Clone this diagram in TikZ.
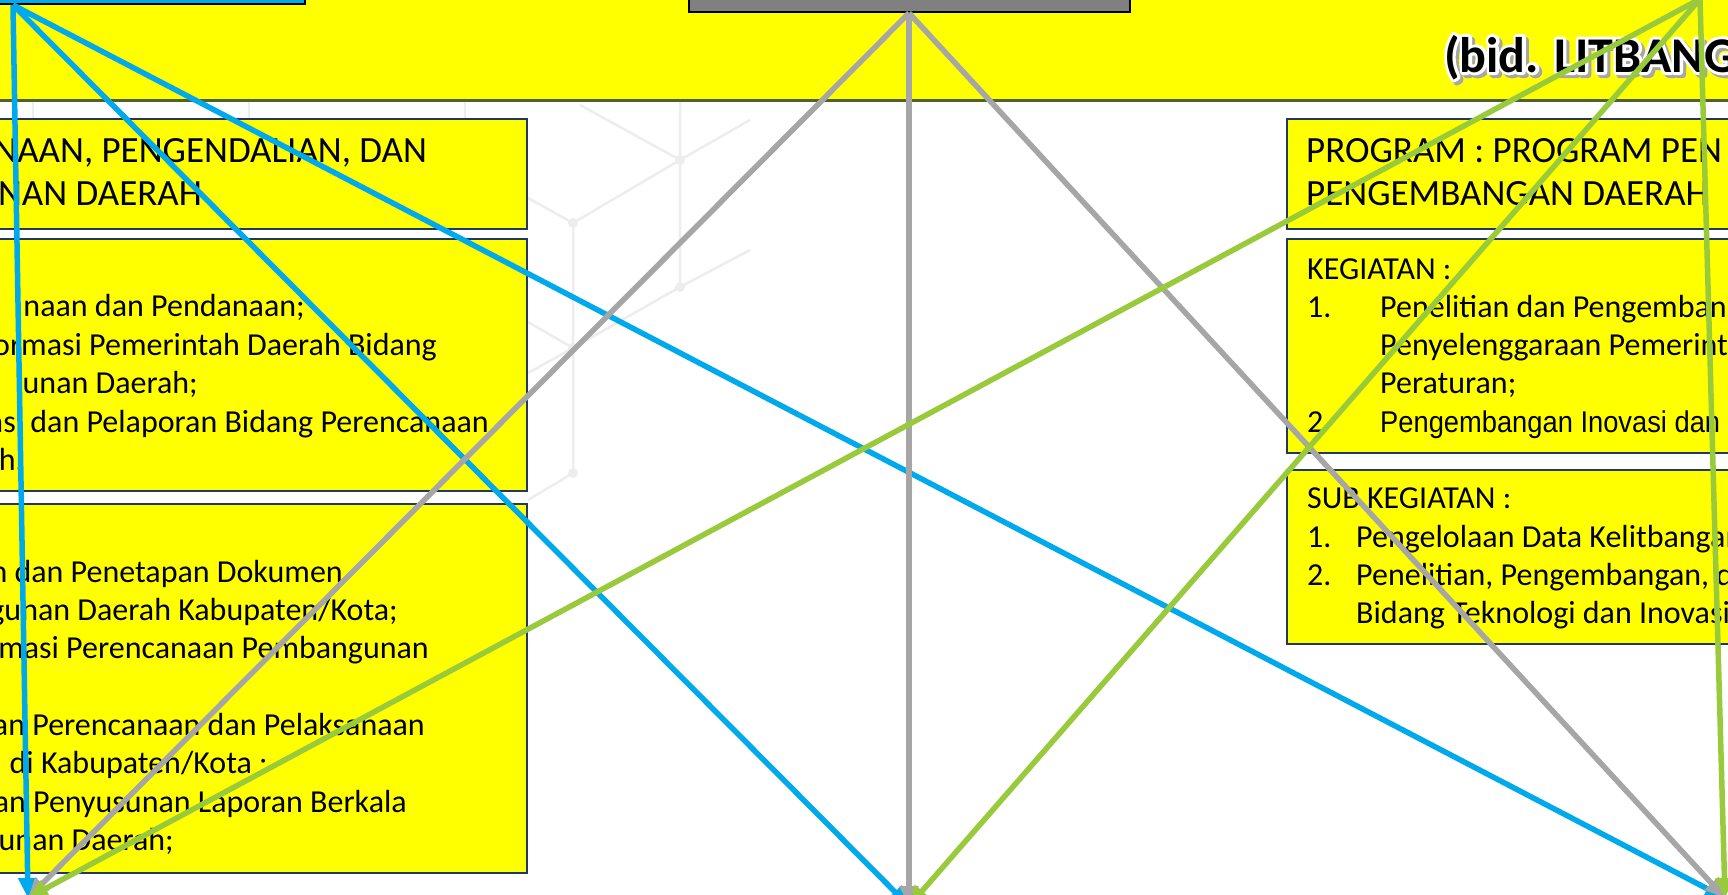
\documentclass[tikz,border=0pt]{standalone}
\usepackage{fontspec}
\setmainfont{Carlito}
\newfontfamily\narrowfont[FakeStretch=0.91]{Liberation Sans}
\usepackage{tikz}
\usetikzlibrary{positioning,arrows.meta}
\definecolor{bandyellow}{RGB}{255,255,0}
\definecolor{bandolive}{RGB}{79,98,40}
\definecolor{boxnavy}{RGB}{31,56,100}
\definecolor{topblue}{RGB}{0,170,235}
\definecolor{headgray}{RGB}{128,128,128}
\definecolor{linkblue}{RGB}{0,169,236}
\definecolor{linkgray}{RGB}{166,166,166}
\definecolor{linkgreen}{RGB}{153,202,60}
\definecolor{hexgray}{RGB}{237,237,237}
\tikzset{
  ybox/.style   = {draw=boxnavy, line width=1.6pt, fill=bandyellow, inner sep=0pt},
  topbox/.style = {draw=black, line width=2pt, minimum height=60pt, inner sep=0pt},
  hd/.style     = {anchor=base west, inner sep=0pt, font=\fontsize{37}{44}\selectfont},
  txt/.style    = {anchor=base west, inner sep=0pt, font=\fontsize{32}{38}\selectfont},
  ttl/.style    = {anchor=base west, inner sep=0pt, font=\fontsize{50}{60}\selectfont\bfseries},
  hex/.style    = {draw=hexgray, line width=2.5pt},
  link/.style   = {line width=5.5pt, -{Triangle[length=20pt,width=18pt]}},
}
% text drawn filled and stroked in its own colour
\newcommand{\stroked}[2]{\special{pdf:literal direct #1 w 1 j 2 Tr}#2\special{pdf:literal direct 0 Tr 1 w}}

\begin{document}
\begin{tikzpicture}[x=1pt,y=-1pt]
  \useasboundingbox (0,0) rectangle (1728,894);
  \fill[white] (0,0) rectangle (1728,894);
  % faint background pattern
  \draw[hex] (580,105) -- (680,160) -- (750,120);
  \draw[hex] (680,100) -- (680,287) -- (750,250);
  \draw[hex] (528,198) -- (573,223) -- (680,160);
  \draw[hex] (573,223) -- (573,473) -- (528,500);
  \draw[hex] (528,322) -- (573,348) -- (680,287);
  \draw[hex] (573,348) -- (528,373);
  \foreach \x in {33,249,465} \draw[hex] (\x,100) -- (\x,118);
  \foreach \p in {(680,160),(573,223),(680,287),(573,348),(573,473)} \fill[hexgray] \p circle (5);
  % header band
  \fill[bandyellow] (-6,-6) rectangle (1734,100);
  \draw[bandolive, line width=2.5pt] (-6,100.5) -- (1734,100.5);
  \node[topbox, fill=topblue, minimum width=584pt, anchor=south] (bidA) at (13,5) {};
  \node[topbox, fill=headgray, minimum width=441pt, anchor=south] (bidB) at (909,13) {};
  \coordinate (bidC) at (1700,-1);
  \node[ttl, text=black!35] (ttlshade) at (1447,75) {\stroked{6}{(bid. LITBANG}};
  \node[ttl, text=white] (ttlglow) at (1444,72) {\stroked{6}{(bid. LITBANG}};
  \node[ttl] (ttl) at (1444,72) {(bid. LITBANG};

  % left column
  \node[ybox, minimum width=560pt, minimum height=110pt, anchor=north east] (progL) at (528,118) {};
  \node[ybox, minimum width=560pt, minimum height=252pt, anchor=north east] (kegL) at (528,238) {};
  \node[ybox, minimum width=560pt, minimum height=369pt, anchor=north east] (subL) at (528,503) {};
  \foreach \t/\e/\b [count=\i] in {{NAAN, PENGENDALIAN, DAN}/427/162, {NAN DAERAH}/202/205}
    \node[hd, anchor=base east] (progL\i) at (\e,\b) {\t};
  \foreach \t/\e/\b [count=\i] in {{naan dan Pendanaan;}/305/316,
      {ormasi Pemerintah Daerah Bidang}/437/355, {unan Daerah;}/198/393,
      {asi dan Pelaporan Bidang Perencanaan}/489/432, {ah.}/24/470}
    \node[txt, anchor=base east] (kegL\i) at (\e,\b) {\t};
  \foreach \t/\e/\b [count=\i] in {{n dan Penetapan Dokumen}/343/582,
      {gunan Daerah Kabupaten/Kota;}/398/620, {masi Perencanaan Pembangunan}/429/658,
      {an Perencanaan dan Pelaksanaan}/425/735, {di Kabupaten/Kota :}/268/773,
      {an Penyusunan Laporan Berkala}/407/812, {unan Daerah;}/174/850}
    \node[txt, anchor=base east] (subL\i) at (\e,\b) {\t};

  % right column
  \node[ybox, minimum width=480pt, minimum height=110pt, anchor=north west] (progR) at (1286,118) {};
  \node[ybox, minimum width=480pt, minimum height=214pt, anchor=north west] (kegR) at (1286,238) {};
  \node[ybox, minimum width=480pt, minimum height=174pt, anchor=north west] (subR) at (1286,469) {};
  \node[hd] (progR1) at (1306,162) {PROGRAM : PROGRAM PEN};
  \node[hd] (progR2) at (1306,205) {PENGEMBANGAN DAERAH};
  \node[txt] (kegR0) at (1307,279) {KEGIATAN :};
  \node[txt] (kegRn1) at (1307,317) {1.};
  \node[txt] (kegR1) at (1380,317) {Penelitian dan Pengemban};
  \node[txt] (kegR2) at (1380,355) {Penyelenggaraan Pemerinta};
  \node[txt] (kegR3) at (1380,393) {Peraturan;};
  \node[txt] (kegRn2) at (1307,432) {2};
  \node[txt, font=\narrowfont\fontsize{30}{38}\selectfont] (kegR4) at (1380,432) {Pengembangan Inovasi dan\hspace{1pt} T};
  \node[txt] (subR0) at (1307,508) {SUB KEGIATAN :};
  \node[txt] (subRn1) at (1307,547) {1.};
  \node[txt] (subR1) at (1356,547) {Pengelolaan Data Kelitbangan};
  \node[txt] (subRn2) at (1307,585) {2.};
  \node[txt] (subR2) at (1356,585) {Penelitian, Pengembangan, d};
  \node[txt] (subR3) at (1356,623) {Bidang Teknologi dan Inovasi};

  % connectors
  \coordinate (dstL) at (28,898);
  \coordinate (dstC) at (909,906);
  \coordinate (dstR) at (1725,898);
  \foreach \d in {dstL,dstC,dstR} \draw[link, linkblue] (bidA.south) -- (\d);
  \foreach \d in {dstL,dstC,dstR} \draw[link, linkgray] (bidB.south) -- (\d);
  \foreach \d in {dstL,dstC,dstR} \draw[link, linkgreen] (bidC) -- (\d);
\end{tikzpicture}
\end{document}
